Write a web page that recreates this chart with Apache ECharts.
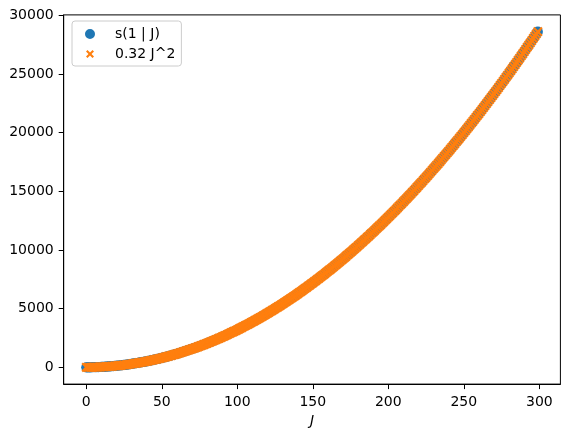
<!DOCTYPE html>
<html><head><meta charset="utf-8">
<script src="https://cdn.jsdelivr.net/npm/echarts@6/dist/echarts.min.js"></script>
<style>html,body{margin:0;padding:0;background:#fff}#c{width:569px;height:440px}</style>
</head><body><div id="c"></div>
<script>
const J = [0,1,2,3,4,5,6,7,8,9,10,11,12,13,14,15,16,17,18,19,20,21,22,23,24,25,26,27,28,29,30,31,32,33,34,35,36,37,38,39,40,41,42,43,44,45,46,47,48,49,50,51,52,53,54,55,56,57,58,59,60,61,62,63,64,65,66,67,68,69,70,71,72,73,74,75,76,77,78,79,80,81,82,83,84,85,86,87,88,89,90,91,92,93,94,95,96,97,98,99,100,101,102,103,104,105,106,107,108,109,110,111,112,113,114,115,116,117,118,119,120,121,122,123,124,125,126,127,128,129,130,131,132,133,134,135,136,137,138,139,140,141,142,143,144,145,146,147,148,149,150,151,152,153,154,155,156,157,158,159,160,161,162,163,164,165,166,167,168,169,170,171,172,173,174,175,176,177,178,179,180,181,182,183,184,185,186,187,188,189,190,191,192,193,194,195,196,197,198,199,200,201,202,203,204,205,206,207,208,209,210,211,212,213,214,215,216,217,218,219,220,221,222,223,224,225,226,227,228,229,230,231,232,233,234,235,236,237,238,239,240,241,242,243,244,245,246,247,248,249,250,251,252,253,254,255,256,257,258,259,260,261,262,263,264,265,266,267,268,269,270,271,272,273,274,275,276,277,278,279,280,281,282,283,284,285,286,287,288,289,290,291,292,293,294,295,296,297,298,299];

const sValues = [0,0,1,3,5,8,12,16,20,26,
32,39,46,54,63,72,82,92,104,116,
128,141,155,169,184,200,216,233,251,269,
288,308,328,348,370,392,415,438,462,487,
512,538,564,592,620,648,677,707,737,768,
800,832,865,899,933,968,1004,1040,1076,1114,
1152,1191,1230,1270,1311,1352,1394,1436,1480,1524,
1568,1613,1659,1705,1752,1800,1848,1897,1947,1997,
2048,2100,2152,2204,2258,2312,2367,2422,2478,2535,
2592,2650,2708,2768,2828,2888,2949,3011,3073,3136,
3200,3264,3329,3395,3461,3528,3596,3664,3732,3802,
3872,3943,4014,4086,4159,4232,4306,4380,4456,4532,
4608,4685,4763,4841,4920,5000,5080,5161,5243,5325,
5408,5492,5576,5660,5746,5832,5919,6006,6094,6183,
6272,6362,6452,6544,6636,6728,6821,6915,7009,7104,
7170,7296,7393,7491,7589,7688,7788,7888,7988,8090,
8192,8295,8398,8502,8607,8712,8818,8924,9032,9140,
9248,9357,9467,9577,9688,9800,9912,10025,10139,10253,
10368,10484,10600,10716,10834,10952,11071,11190,11360,11431,
11552,11674,11796,11920,12044,12168,12293,12419,12545,12672,
12800,12928,13057,13187,13317,13400,13580,13712,13844,13978,
14112,14247,14382,14518,14655,14792,14930,15068,15208,15348,
15488,15629,15771,15913,16056,16200,16344,16489,16635,16781,
16928,17076,17224,17372,17522,17672,17823,17974,18126,18279,
18432,18586,18740,18896,19120,19208,19365,19523,19681,19840,
20000,20160,20321,20483,20645,20808,20972,21136,21300,21466,
21632,21799,21966,22134,22303,22472,22642,22812,22984,23156,
23328,23501,23675,23849,24024,24200,24376,24553,24731,24909,
25088,25268,25448,25700,25810,25992,26175,26358,26542,26727,
26912,27098,27284,27472,27660,27848,28037,28227,28417,28608];

const quadValues = [0,0,1,3,5,8,12,16,20,26,
32,39,46,54,63,72,82,92,104,116,
128,141,155,169,184,200,216,233,251,269,
288,308,328,348,370,392,415,438,462,487,
512,538,564,592,620,648,677,707,737,768,
800,832,865,899,933,968,1004,1040,1076,1114,
1152,1191,1230,1270,1311,1352,1394,1436,1480,1524,
1568,1613,1659,1705,1752,1800,1848,1897,1947,1997,
2048,2100,2152,2204,2258,2312,2367,2422,2478,2535,
2592,2650,2708,2768,2828,2888,2949,3011,3073,3136,
3200,3264,3329,3395,3461,3528,3596,3664,3732,3802,
3872,3943,4014,4086,4159,4232,4306,4380,4456,4532,
4608,4685,4763,4841,4920,5000,5080,5161,5243,5325,
5408,5492,5576,5660,5746,5832,5919,6006,6094,6183,
6272,6362,6452,6544,6636,6728,6821,6915,7009,7104,
7200,7296,7393,7491,7589,7688,7788,7888,7988,8090,
8192,8295,8398,8502,8607,8712,8818,8924,9032,9140,
9248,9357,9467,9577,9688,9800,9912,10025,10139,10253,
10368,10484,10600,10716,10834,10952,11071,11190,11310,11431,
11552,11674,11796,11920,12044,12168,12293,12419,12545,12672,
12800,12928,13057,13187,13317,13448,13580,13712,13844,13978,
14112,14247,14382,14518,14655,14792,14930,15068,15208,15348,
15488,15629,15771,15913,16056,16200,16344,16489,16635,16781,
16928,17076,17224,17372,17522,17672,17823,17974,18126,18279,
18432,18586,18740,18896,19052,19208,19365,19523,19681,19840,
20000,20160,20321,20483,20645,20808,20972,21136,21300,21466,
21632,21799,21966,22134,22303,22472,22642,22812,22984,23156,
23328,23501,23675,23849,24024,24200,24376,24553,24731,24909,
25088,25268,25448,25628,25810,25992,26175,26358,26542,26727,
26912,27098,27284,27472,27660,27848,28037,28227,28417,28608];

const xTicks = [0,50,100,150,200,250,300];
const yTicks = [0,5000,10000,15000,20000,25000,30000];
const seriesNames = ['s(1 | J)', '0.32 J^2'];
const xName = 'J';

const X_PATH = 'path://M0,1.55L1.55,0L5,3.45L8.45,0L10,1.55L6.55,5L10,8.45L8.45,10L5,6.55L1.55,10L0,8.45L3.45,5Z';
const CORNERS = 'M0,0L0.01,0L0,0.01ZM30,10L29.99,10L30,9.99Z';
const O_LEGEND = 'path://' + CORNERS + 'M5,5A5,5 0 1 0 15,5A5,5 0 1 0 5,5Z';
const X_LEGEND = 'path://' + CORNERS + 'M6,2.5L7.5,1L10,3.5L12.5,1L14,2.5L11.5,5L14,7.5L12.5,9L10,6.5L7.5,9L6,7.5L8.5,5Z';
const font = 'DejaVu Sans';
const plain = v => String(v);
const chart = echarts.init(document.getElementById('c'), null, {renderer:'canvas'});
chart.setOption({
  animation:false,
  grid:{left:63.7,right:8.6,top:14.9,bottom:55.9,show:true,borderColor:'#000',borderWidth:1,backgroundColor:'transparent'},
  xAxis:{type:'value',min:-14.95,max:313.95,name:xName,nameLocation:'middle',nameGap:30,
    nameTextStyle:{fontFamily:font,fontSize:14,fontStyle:'italic',color:'#000'},
    axisLine:{show:true,onZero:false,lineStyle:{color:'#000',width:1}},splitLine:{show:false},
    axisTick:{show:true,inside:false,length:5,lineStyle:{color:'#000',width:1},customValues:xTicks},
    axisLabel:{customValues:xTicks,margin:11,color:'#000',fontFamily:font,fontSize:14,formatter:plain}},
  yAxis:{type:'value',min:-1430.4,max:30038.7,
    axisLine:{show:true,onZero:false,lineStyle:{color:'#000',width:1}},splitLine:{show:false},
    axisTick:{show:true,inside:false,length:5,lineStyle:{color:'#000',width:1},customValues:yTicks},
    axisLabel:{customValues:yTicks,margin:10,color:'#000',fontFamily:font,fontSize:14,formatter:plain}},
  legend:{left:72,top:21,orient:'vertical',padding:[6,6,5,8],itemGap:6,itemWidth:30,itemHeight:10,
    borderColor:'#cccccc',borderWidth:1,borderRadius:3,backgroundColor:'rgba(255,255,255,0.8)',
    textStyle:{fontFamily:font,fontSize:14,color:'#000'},
    data:[{name:seriesNames[0],icon:O_LEGEND},{name:seriesNames[1],icon:X_LEGEND}]},
  series:[
    {type:'scatter',name:seriesNames[0],data:J.map((j,i)=>[j,sValues[i]]),symbol:'circle',symbolSize:10.2,
     itemStyle:{color:'#1f77b4',opacity:1},emphasis:{disabled:true}},
    {type:'scatter',name:seriesNames[1],data:J.map((j,i)=>[j,quadValues[i]]),symbol:X_PATH,symbolSize:9.8,
     itemStyle:{color:'#ff7f0e',opacity:1},emphasis:{disabled:true}}
  ]
});
</script></body></html>
